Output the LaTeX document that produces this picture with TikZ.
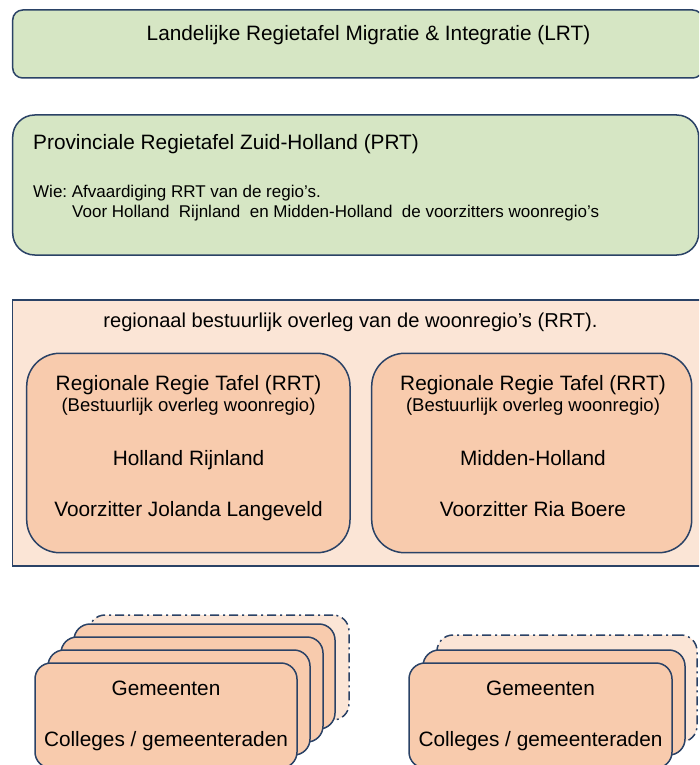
\documentclass[tikz,border=0pt]{standalone}
\usepackage{fontspec}
\setmainfont{Liberation Sans}
\frenchspacing
\definecolor{grn}{HTML}{D6E6C4}
\definecolor{peachlt}{HTML}{FBE5D6}
\definecolor{peach}{HTML}{F8CBAD}
\definecolor{bord}{HTML}{2A4266}
\begin{document}
\begin{tikzpicture}[x=1pt,y=-1pt,
  box/.style={draw=bord, line width=1.5pt, inner sep=0pt, outer sep=0pt, anchor=north west},
  greenbox/.style={box, fill=grn},
  card/.style={box, fill=peach, rounded corners=16pt, minimum width=262pt, minimum height=105pt},
  dashcard/.style={box, fill=peachlt, rounded corners=16pt, minimum height=105pt,
    dash pattern=on 9pt off 4pt on 2pt off 4pt},
  big/.style={font=\fontsize{20.8}{24}\selectfont, inner sep=0pt, anchor=base},
  mid/.style={font=\fontsize{18.5}{22}\selectfont, inner sep=0pt, anchor=base},
  small/.style={font=\fontsize{17}{20}\selectfont, inner sep=0pt, anchor=base west}]
\clip (0,0) rectangle (699,765);
\fill[white] (0,0) rectangle (699,765);

% LRT
\node[greenbox, rounded corners=10pt, minimum width=690pt, minimum height=68pt] (lrt) at (12.7,10) {};
\node[big] (lrtt) at (368.5,41) {Landelijke Regietafel Migratie \& Integratie (LRT)};

% PRT
\node[greenbox, rounded corners=22pt, minimum width=686pt, minimum height=140pt] (prt) at (12.7,115) {};
\node[big, anchor=base west] (prtt) at (33,149.5) {Provinciale Regietafel Zuid-Holland (PRT)};
\node[small] (wie) at (33,197) {Wie: Afvaardiging RRT van de regio’s.};
\node[small] (voor) at (72,217.5) {Voor Holland\ \ Rijnland\ \ en Midden-Holland\ \ de voorzitters woonregio’s};

% RRT outer
\node[box, fill=peachlt, minimum width=700pt, minimum height=266pt] (rrt) at (12.7,300) {};
\node[big, font=\fontsize{20.1}{24}\selectfont] (rrtt) at (350.5,327) {regionaal bestuurlijk overleg van de woonregio’s (RRT).};

% inner left
\node[box, fill=peach, rounded corners=33pt, minimum width=323.3pt, minimum height=199.4pt] (hr) at (26.7,353.3) {};
\node[big] (hr1) at (188.5,390) {Regionale Regie Tafel (RRT)};
\node[mid] (hr2) at (188.5,411.5) {(Bestuurlijk overleg woonregio)};
\node[big] (hr3) at (188.5,465) {Holland Rijnland};
\node[big] (hr4) at (188.5,516.5) {Voorzitter Jolanda Langeveld};

% inner right
\node[box, fill=peach, rounded corners=33pt, minimum width=320pt, minimum height=199.4pt] (mh) at (371.7,353.3) {};
\node[big] (mh1) at (533,390) {Regionale Regie Tafel (RRT)};
\node[mid] (mh2) at (533,411.5) {(Bestuurlijk overleg woonregio)};
\node[big] (mh3) at (533,465) {Midden-Holland};
\node[big] (mh4) at (533,516.5) {Voorzitter Ria Boere};

% left stack
\node[dashcard, minimum width=260pt] (ld) at (89,615) {};
\node[card, minimum width=261pt] (l4) at (74,624) {};
\node[card] (l3) at (61,637) {};
\node[card] (l2) at (48,650) {};
\node[card] (l1) at (35,663) {};
\node[big] (l1a) at (166,695.7) {Gemeenten};
\node[big] (l1b) at (166,746.7) {Colleges / gemeenteraden};

% right stack
\node[dashcard, minimum width=260pt, minimum height=107pt] (rd) at (437,635) {};
\node[card] (r2) at (423,650) {};
\node[card, minimum width=263pt] (r1) at (409,663) {};
\node[big] (r1a) at (540.5,695.7) {Gemeenten};
\node[big] (r1b) at (540.5,746.7) {Colleges / gemeenteraden};
\end{tikzpicture}
\end{document}
